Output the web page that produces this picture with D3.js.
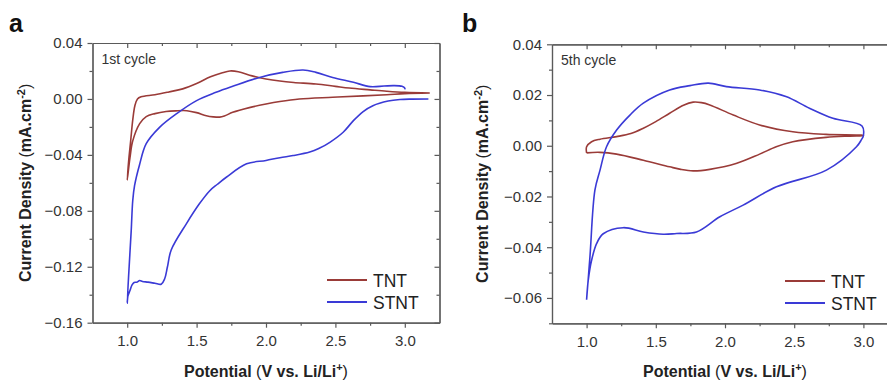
<!DOCTYPE html>
<html>
<head>
<meta charset="utf-8">
<script src="https://cdn.jsdelivr.net/npm/d3@7"></script>
<style>
  html, body { margin: 0; padding: 0; background: #fff; }
  svg { display: block; font-family: "Liberation Sans", Arial, sans-serif; }
</style>
</head>
<body>
<svg id="chart" width="887" height="381"></svg>
<script>
// ---------- data (potential V, current density mA/cm^2) ----------
const xTicks = [1.0, 1.5, 2.0, 2.5, 3.0];
const xMinorTicks = [1.25, 1.75, 2.25, 2.75];
const yTicksA = [0.04, 0.00, -0.04, -0.08, -0.12, -0.16];
const yMinorTicksA = [0.02, -0.02, -0.06, -0.10, -0.14];
const yTicksB = [0.04, 0.02, 0.00, -0.02, -0.04, -0.06];
const yMinorTicksB = [0.03, 0.01, -0.01, -0.03, -0.05, -0.07];
const seriesNames = ["TNT", "STNT"];
const cycleLabels = ["1st cycle", "5th cycle"];

// Panel a – 1st cycle
const tntCycle1 = [
  [3.18,0.0043],[3.0,0.0038],[2.87,0.003],[2.7,0.0022],[2.48,0.0012],[2.24,0.0],
  [2.1,-0.0018],[2.0,-0.0036],[1.88,-0.0062],[1.76,-0.0096],[1.70,-0.0122],[1.666,-0.013],
  [1.62,-0.0128],[1.57,-0.012],[1.5,-0.0098],[1.43,-0.0084],[1.35,-0.0085],[1.28,-0.009],
  [1.2,-0.0105],[1.137,-0.0126],[1.09,-0.0177],[1.04,-0.030],[1.02,-0.042],[1.0,-0.058],
  [1.01,-0.045],[1.025,-0.03],[1.04,-0.015],[1.055,-0.005],[1.074,0.0],[1.1,0.0015],
  [1.2,0.003],[1.3,0.005],[1.4,0.0072],[1.5,0.011],[1.6,0.0158],[1.68,0.0185],
  [1.74,0.020],[1.8,0.0195],[1.9,0.0165],[2.0,0.0143],[2.1,0.0128],[2.2,0.0118],
  [2.36,0.0107],[2.5,0.0090],[2.6,0.0078],[2.75,0.0065],[2.87,0.0055],[3.0,0.0047],[3.18,0.0043]
];
const stntCycle1 = [
  [3.17,0.0],[3.05,-0.0001],[2.965,-0.0004],[2.88,-0.0015],[2.77,-0.0048],[2.7,-0.009],
  [2.63,-0.0155],[2.556,-0.0238],[2.46,-0.031],[2.38,-0.0355],[2.315,-0.038],[2.195,-0.0405],
  [2.1,-0.042],[2.0,-0.044],[1.86,-0.0464],[1.714,-0.056],[1.65,-0.061],[1.595,-0.0656],
  [1.52,-0.075],[1.426,-0.0893],[1.317,-0.108],[1.29,-0.120],[1.27,-0.1286],[1.245,-0.1325],
  [1.2,-0.1318],[1.15,-0.131],[1.11,-0.1305],[1.09,-0.1298],[1.07,-0.131],[1.05,-0.1312],
  [1.035,-0.133],[1.02,-0.137],[1.005,-0.141],[1.0,-0.146],
  [1.014,-0.120],[1.029,-0.094],[1.04,-0.0726],[1.053,-0.0620],[1.089,-0.0470],[1.137,-0.032],
  [1.233,-0.0203],[1.354,-0.0107],[1.5,-0.0012],[1.64,0.0047],[1.76,0.009],[1.954,0.0154],
  [2.12,0.019],[2.267,0.0207],[2.36,0.019],[2.48,0.0154],[2.63,0.0119],[2.75,0.0088],
  [2.85,0.0092],[2.92,0.0095],[2.98,0.009],[3.0,0.0078],[3.0,0.0068]
];

// Panel b – 5th cycle
const tntCycle5 = [
  [1.0,-0.0028],[1.0,-0.0004],[1.036,0.0016],[1.097,0.0026],[1.217,0.0036],[1.32,0.0048],
  [1.41,0.0069],[1.5,0.0095],[1.6,0.0128],[1.7,0.016],[1.77,0.0172],[1.83,0.017],
  [1.89,0.0161],[2.06,0.0121],[2.25,0.0082],[2.49,0.0055],[2.73,0.0045],[2.985,0.0042],
  [3.0,0.004],[2.9,0.0038],[2.73,0.0033],[2.49,0.0016],[2.37,-0.0004],[2.25,-0.0033],
  [2.08,-0.007],[1.89,-0.0093],[1.77,-0.0099],[1.68,-0.0093],[1.6,-0.0083],[1.41,-0.0057],
  [1.217,-0.0033],[1.097,-0.0026],[1.0,-0.0028]
];
const stntCycle5 = [
  [1.0,-0.0607],[1.024,-0.0439],[1.06,-0.0175],[1.097,-0.0096],[1.144,-0.0004],[1.217,0.0062],
  [1.313,0.0121],[1.41,0.0168],[1.6,0.022],[1.747,0.0237],[1.88,0.0247],[2.01,0.0233],
  [2.25,0.022],[2.44,0.0194],[2.61,0.0148],[2.78,0.0108],[2.99,0.0078],[3.0,0.0040],
  [2.985,0.0023],[2.95,-0.0004],[2.733,-0.0096],[2.372,-0.0162],[2.131,-0.0234],[1.963,-0.028],
  [1.794,-0.034],[1.65,-0.0346],[1.554,-0.0349],[1.41,-0.034],[1.265,-0.0323],[1.12,-0.0347],
  [1.072,-0.0386],[1.036,-0.0452],[1.012,-0.053],[1.0,-0.0607]
];

const colors = ["#9a3b38", "#3a3ad6"];
const axisColor = "#5a5a5a";
const textColor = "#333";

const svg = d3.select("#chart");

function panel(cfg) {
  const x = d3.scaleLinear().domain([0.75, 3.25]).range([cfg.left, cfg.right]);
  const y = d3.scaleLinear().domain(cfg.yDomain).range([cfg.bottom, cfg.top]);
  const g = svg.append("g");

  function styleAxis(sel) {
    sel.select(".domain").attr("stroke", axisColor).attr("stroke-width", 1.2);
    sel.selectAll(".tick line").attr("stroke", axisColor).attr("stroke-width", 1.2);
    sel.selectAll(".tick text").attr("fill", textColor)
       .style("font-family", "'Liberation Sans', Arial, sans-serif").style("font-size", "15px");
  }
  // bottom
  g.append("g").attr("transform", `translate(0,${cfg.bottom})`)
    .call(d3.axisBottom(x).tickValues(xTicks).tickFormat(d3.format(".1f")).tickSize(5).tickPadding(8).tickSizeOuter(0))
    .call(styleAxis);
  g.append("g").attr("transform", `translate(0,${cfg.bottom})`)
    .call(d3.axisBottom(x).tickValues(xMinorTicks).tickFormat("").tickSize(3).tickSizeOuter(0))
    .call(styleAxis);
  // top (inward)
  g.append("g").attr("transform", `translate(0,${cfg.top})`)
    .call(d3.axisTop(x).tickValues(xTicks).tickFormat("").tickSize(-5).tickSizeOuter(0))
    .call(styleAxis);
  g.append("g").attr("transform", `translate(0,${cfg.top})`)
    .call(d3.axisTop(x).tickValues(xMinorTicks).tickFormat("").tickSize(-3).tickSizeOuter(0))
    .call(styleAxis);
  // left
  g.append("g").attr("transform", `translate(${cfg.left},0)`)
    .call(d3.axisLeft(y).tickValues(cfg.yTicks).tickFormat(d3.format(".2f")).tickSize(5).tickPadding(5).tickSizeOuter(0))
    .call(styleAxis);
  g.append("g").attr("transform", `translate(${cfg.left},0)`)
    .call(d3.axisLeft(y).tickValues(cfg.yMinor).tickFormat("").tickSize(3).tickSizeOuter(0))
    .call(styleAxis);
  // right (inward)
  g.append("g").attr("transform", `translate(${cfg.right},0)`)
    .call(d3.axisRight(y).tickValues(cfg.yTicks).tickFormat("").tickSize(-5).tickSizeOuter(0))
    .call(styleAxis);
  g.append("g").attr("transform", `translate(${cfg.right},0)`)
    .call(d3.axisRight(y).tickValues(cfg.yMinor).tickFormat("").tickSize(-3).tickSizeOuter(0))
    .call(styleAxis);

  // curves
  const line = d3.line().x(d => x(d[0])).y(d => y(d[1])).curve(cfg.curve);
  cfg.series.forEach((s, i) => {
    g.append("path").datum(s).attr("d", line)
      .attr("fill", "none").attr("stroke", colors[i]).attr("stroke-width", 1.6)
      .attr("stroke-linejoin", "round");
  });

  // panel letter
  g.append("text").attr("x", cfg.letterX).attr("y", 32)
    .attr("font-size", 25).attr("font-weight", "bold").attr("fill", "#111").text(cfg.letter);

  // cycle label
  g.append("text").attr("x", cfg.left + 9).attr("y", cfg.top + 21)
    .attr("font-size", 14).attr("fill", textColor).text(cfg.cycle);

  // legend
  seriesNames.forEach((n, i) => {
    const ly = cfg.legendY + i * 22;
    g.append("line").attr("x1", cfg.legendX).attr("x2", cfg.legendX + 40)
      .attr("y1", ly).attr("y2", ly).attr("stroke", colors[i]).attr("stroke-width", 1.8);
    g.append("text").attr("x", cfg.legendX + 46).attr("y", ly + 6.5)
      .attr("font-size", 17.5).attr("fill", "#222").text(n);
  });

  // x axis title
  const xt = g.append("text").attr("x", x(2.0)).attr("y", 377)
    .attr("text-anchor", "middle").attr("font-size", 16).attr("font-weight", "bold").attr("fill", "#222");
  xt.append("tspan").text("Potential ");
  xt.append("tspan").attr("font-weight", "normal").text("(");
  xt.append("tspan").text("V vs. Li/Li");
  xt.append("tspan").attr("dy", -6).attr("font-size", 11).text("+");
  xt.append("tspan").attr("dy", 6).attr("font-weight", "normal").text(")");

  // y axis title
  const cy = (cfg.top + cfg.bottom) / 2;
  const yt = g.append("text").attr("transform", `translate(${cfg.yTitleX},${cy}) rotate(-90)`)
    .attr("text-anchor", "middle").attr("font-size", 16).attr("font-weight", "bold").attr("fill", "#222");
  yt.append("tspan").text("Current Density ");
  yt.append("tspan").attr("font-weight", "normal").text("(");
  yt.append("tspan").text("mA.cm");
  yt.append("tspan").attr("dy", -6).attr("font-size", 11).text("-2");
  yt.append("tspan").attr("dy", 6).attr("font-weight", "normal").text(")");
}

panel({
  left: 92.5, right: 439.5, top: 43, bottom: 322.7,
  yDomain: [-0.16, 0.04], yTicks: yTicksA, yMinor: yMinorTicksA,
  series: [tntCycle1, stntCycle1], curve: d3.curveCatmullRom.alpha(0.5),
  letter: "a", letterX: 9, cycle: cycleLabels[0],
  legendX: 327, legendY: 280, yTitleX: 31
});
panel({
  left: 552, right: 898, top: 44.3, bottom: 323.3,
  yDomain: [-0.07, 0.04], yTicks: yTicksB, yMinor: yMinorTicksB,
  series: [tntCycle5, stntCycle5], curve: d3.curveCatmullRom.alpha(0.5),
  letter: "b", letterX: 462, cycle: cycleLabels[1],
  legendX: 785, legendY: 281, yTitleX: 488
});
</script>
</body>
</html>
